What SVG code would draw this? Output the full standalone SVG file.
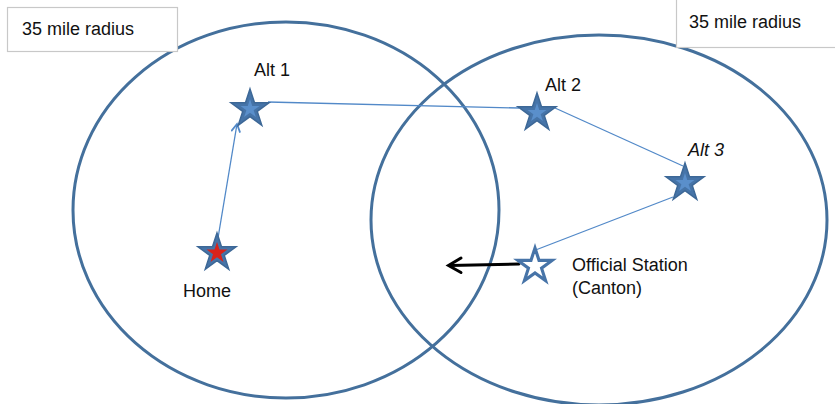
<svg xmlns="http://www.w3.org/2000/svg" width="835" height="404" viewBox="0 0 835 404">
  <style>
    .lbl { font-family: "Liberation Sans", Arial, sans-serif; font-size: 18px; fill: #111; }
    .box { fill: #fff; stroke: #c8c8c8; stroke-width: 1.2; }
    .ring { fill: none; stroke: #44709c; stroke-width: 3; }
    .conn { fill: none; stroke: #5289c8; stroke-width: 1.3; }
    .outer { fill: #4674a8; stroke: #3d6897; stroke-width: 1.5; stroke-linejoin: miter; }
    .inner { fill: #5a8fcb; }
  </style>
  <defs>
    <path id="star" d="M0,-20 L4.49,-6.18 L19.02,-6.18 L7.27,2.36 L11.76,16.18 L0,7.64 L-11.76,16.18 L-7.27,2.36 L-19.02,-6.18 L-4.49,-6.18 Z"/>
    <marker id="openArrow" markerWidth="12" markerHeight="12" refX="9" refY="5" orient="auto" markerUnits="userSpaceOnUse">
      <path d="M1,0.5 L9,5 L1,9.5" fill="none" stroke="#5289c8" stroke-width="1.8"/>
    </marker>
  </defs>

  <g id="circles">
    <ellipse id="circle-left" class="ring" cx="286" cy="210" rx="213" ry="188"/>
    <ellipse id="circle-right" class="ring" cx="599" cy="220" rx="228" ry="185"/>
  </g>

  <g id="radius-label-left">
    <rect class="box" x="7.5" y="7.5" width="170" height="44"/>
    <text class="lbl" x="22" y="35">35 mile radius</text>
  </g>
  <g id="radius-label-right">
    <rect class="box" x="676.5" y="-2" width="170" height="49.5"/>
    <text class="lbl" x="689" y="28">35 mile radius</text>
  </g>

  <g id="connectors">
    <line class="conn" x1="218" y1="238" x2="237" y2="124" marker-end="url(#openArrow)"/>
    <line class="conn" x1="268" y1="102" x2="519" y2="108"/>
    <line class="conn" x1="555" y1="108" x2="683" y2="166"/>
    <line class="conn" x1="673" y1="197" x2="533" y2="251"/>
    <g id="official-arrow">
      <line x1="519" y1="264" x2="450" y2="265.5" stroke="#000" stroke-width="3" stroke-linecap="round"/>
      <path d="M461,258 L448.5,265.5 L461,272.5" fill="none" stroke="#000" stroke-width="3" stroke-linecap="round" stroke-linejoin="miter"/>
    </g>
  </g>

  <g id="alt1">
    <use href="#star" class="outer" transform="translate(250,109)"/>
    <use href="#star" class="inner" transform="translate(250,109) scale(0.5)"/>
    <text class="lbl" x="254" y="76">Alt 1</text>
  </g>
  <g id="alt2">
    <use href="#star" class="outer" transform="translate(537,113)"/>
    <use href="#star" class="inner" transform="translate(537,113) scale(0.5)"/>
    <text class="lbl" x="545" y="91">Alt 2</text>
  </g>
  <g id="alt3">
    <use href="#star" class="outer" transform="translate(685,183)"/>
    <use href="#star" class="inner" transform="translate(685,183) scale(0.5)"/>
    <text class="lbl" x="688" y="156" font-style="italic">Alt 3</text>
  </g>
  <g id="home">
    <use href="#star" class="outer" transform="translate(217,253)"/>
    <use href="#star" fill="#d8231a" transform="translate(217,253) scale(0.55)"/>
    <text class="lbl" x="183" y="297">Home</text>
  </g>
  <g id="official-station">
    <use href="#star" fill="#fff" stroke="#4774a8" stroke-width="3.5" transform="translate(535,266) scale(0.9)"/>
    <text class="lbl" x="572" y="271">Official Station</text>
    <text class="lbl" x="572" y="294">(Canton)</text>
  </g>
</svg>
